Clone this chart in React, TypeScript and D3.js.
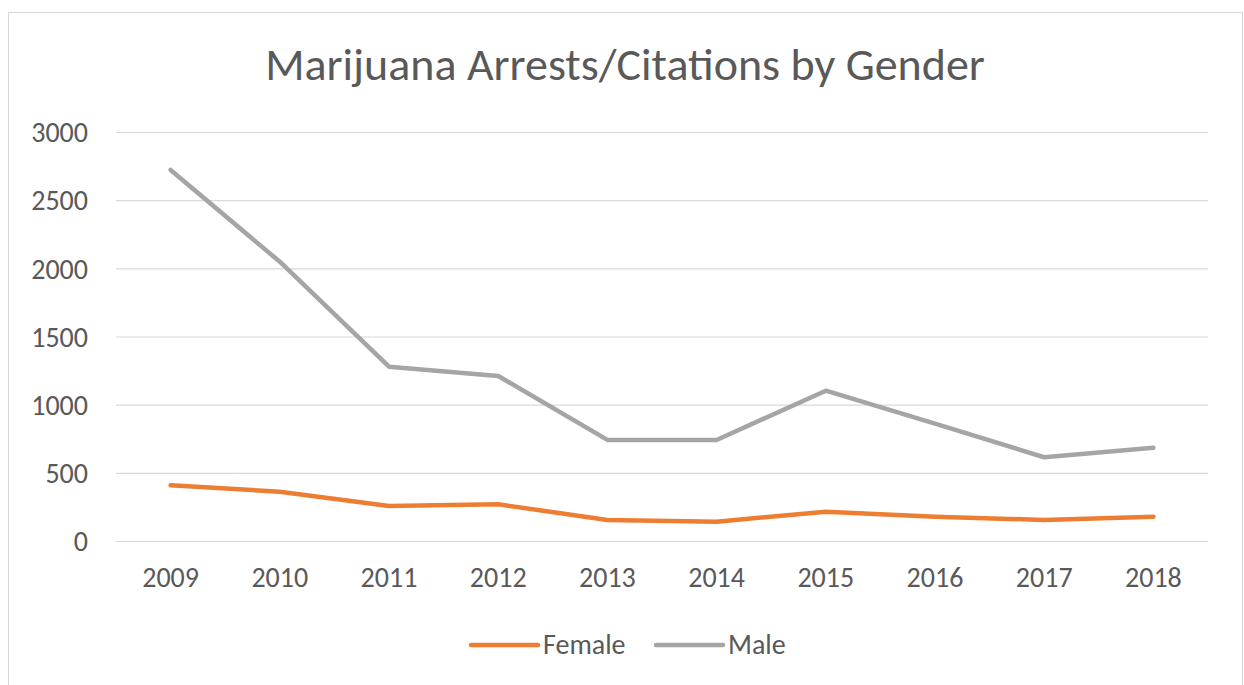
import React from "react";
import * as d3 from "d3";

const years = ["2009", "2010", "2011", "2012", "2013", "2014", "2015", "2016", "2017", "2018"];
const female = [412, 365, 260, 273, 158, 145, 219, 182, 158, 182];
const male = [2725, 2052, 1282, 1214, 745, 745, 1106, 865, 618, 688];
const yTicks = [0, 500, 1000, 1500, 2000, 2500, 3000];

const series = [
  { name: "Female", values: female, color: "#ED7D31" },
  { name: "Male", values: male, color: "#A5A5A5" },
];

const width = 1244;
const height = 685;
const left = 116;
const right = 1208;
const top = 132.5;
const bottom = 541.5;
const font = "Carlito, Calibri, 'Open Sans', sans-serif";
const textColor = "#595959";

export default function App() {
  const x = d3.scaleBand().domain(years).range([left, right]);
  const y = d3.scaleLinear().domain([0, 3000]).range([bottom, top]);

  const line = d3
    .line<number>()
    .x((d, i) => (x(years[i]) as number) + x.bandwidth() / 2)
    .y((d) => y(d));

  return (
    <svg
      width={width}
      height={height}
      style={{ position: "absolute", left: 0, top: 0, background: "#fff" }}
    >
      <rect x={8.5} y={12.5} width={1234} height={690} fill="#fff" stroke="#D9D9D9" strokeWidth={1} />
      <text x={625} y={80} textAnchor="middle" fontFamily={font} fontSize={46} fill={textColor}>
        Marijuana Arrests/Citations by Gender
      </text>
      {yTicks.map((t) => (
        <g key={t}>
          <line x1={left} x2={right} y1={y(t)} y2={y(t)} stroke="#D9D9D9" strokeWidth={1.2} />
          <text
            x={88}
            y={y(t)}
            dy="0.35em"
            textAnchor="end"
            fontFamily={font}
            fontSize={28}
            fill={textColor}
          >
            {t}
          </text>
        </g>
      ))}
      {years.map((yr) => (
        <text
          key={yr}
          x={(x(yr) as number) + x.bandwidth() / 2}
          y={577}
          dy="0.35em"
          textAnchor="middle"
          fontFamily={font}
          fontSize={28}
          fill={textColor}
        >
          {yr}
        </text>
      ))}
      {series.map((s) => (
        <path
          key={s.name}
          d={line(s.values) || ""}
          fill="none"
          stroke={s.color}
          strokeWidth={4.5}
          strokeLinejoin="round"
          strokeLinecap="round"
        />
      ))}
      {series.map((s, i) => {
        const lx = i === 0 ? 471 : 656;
        return (
          <g key={s.name}>
            <line x1={lx} x2={lx + 67} y1={645} y2={645} stroke={s.color} strokeWidth={4.5} strokeLinecap="round" />
            <text x={lx + 72} y={644} dy="0.35em" fontFamily={font} fontSize={28} fill={textColor}>
              {s.name}
            </text>
          </g>
        );
      })}
    </svg>
  );
}
